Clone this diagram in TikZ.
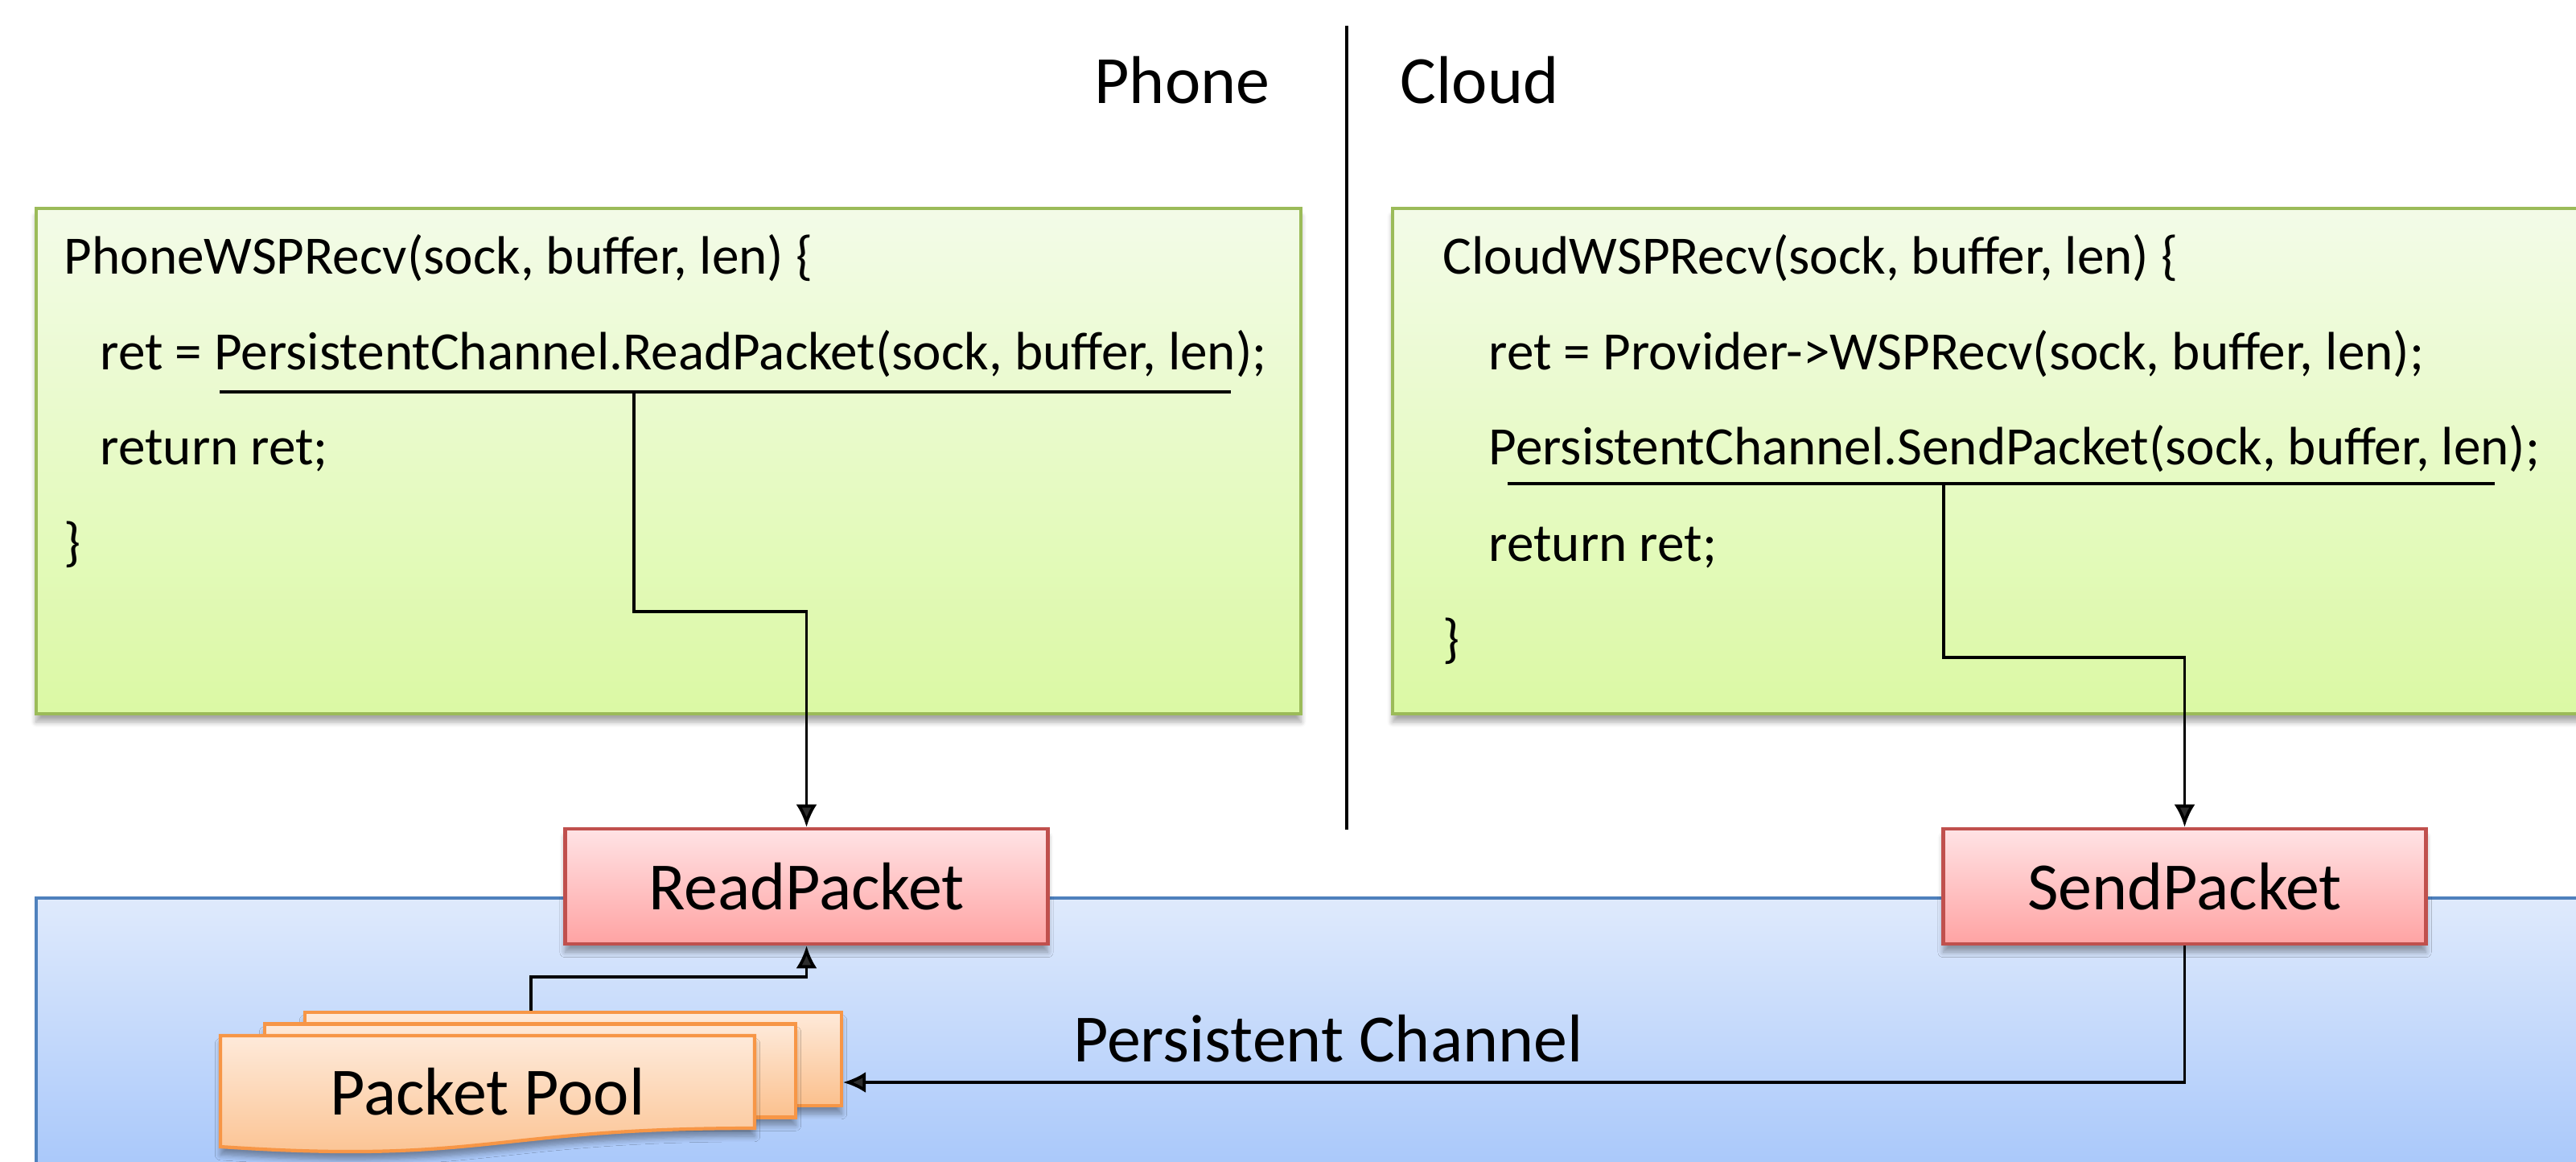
\documentclass[tikz,border=0pt]{standalone}
\usepackage{fontspec}
\setmainfont{Carlito}
\usetikzlibrary{arrows.meta,positioning,shadows.blur}

\definecolor{codetop}{HTML}{F3FBE8}
\definecolor{codebot}{HTML}{DBF9A4}
\definecolor{codeline}{HTML}{9BBB59}
\definecolor{pktop}{HTML}{FFE3E5}
\definecolor{pkbot}{HTML}{FFA3A3}
\definecolor{pkline}{HTML}{C0504D}
\definecolor{chantop}{HTML}{DFEAFC}
\definecolor{chanbot}{HTML}{A6C6FA}
\definecolor{chanline}{HTML}{4F81BD}
\definecolor{pooltop}{HTML}{FEEADA}
\definecolor{poolbot}{HTML}{FBC08D}
\definecolor{poolline}{HTML}{F79646}

\begin{document}
\begin{tikzpicture}
    % Stili per i nodi
    \tikzstyle{shade}=[blur shadow={shadow xshift=0pt, shadow yshift=-1mm, shadow blur steps=6, shadow opacity=35}]
    \tikzstyle{codebox}=[rectangle, draw=codeline, line width=0.9pt, top color=codetop, bottom color=codebot, inner sep=0pt, minimum height=6.28cm, shade]
    \tikzstyle{pkbox}=[rectangle, draw=pkline, line width=1.3pt, top color=pktop, bottom color=pkbot, inner sep=0pt, minimum width=6cm, minimum height=1.43cm, font=\fontsize{23.9pt}{28pt}\selectfont, shade]
    \tikzstyle{chanbox}=[rectangle, draw=chanline, line width=1.2pt, top color=chantop, bottom color=chanbot, inner sep=0pt]
    \tikzstyle{poolbox}=[rectangle, draw=poolline, line width=1.2pt, top color=pooltop, bottom color=poolbot, inner sep=0pt, minimum height=1.16cm, shade]
    \tikzstyle{code}=[anchor=base west, inner sep=0pt, font=\fontsize{19.1pt}{22pt}\selectfont]
    \tikzstyle{big}=[inner sep=0pt, font=\fontsize{23.9pt}{28pt}\selectfont]
    \tikzstyle{arrow}=[-{Latex[length=2.8mm,width=2.6mm]}, line width=1.1pt]
    \tikzstyle{uline}=[line width=1.1pt]

    \useasboundingbox (0,0) rectangle (32.02,-14.43);

    % Canale persistente
    \node[chanbox, minimum width=31.85cm, minimum height=3.54cm] (chan) at (16.375,-12.93) {};
    \node[big, anchor=base] (chanlbl) at (16.51,-13.19) {Persistent Channel};

    % Intestazioni
    \node[big, anchor=base east] (phone) at (15.79,-1.28) {Phone};
    \node[big, anchor=base west] (cloud) at (17.40,-1.28) {Cloud};
    \coordinate (divtop) at (16.74,-0.32);
    \coordinate (divbot) at (16.74,-10.31);
    \draw[line width=0.9pt] (divtop) -- (divbot);

    % Codice lato telefono
    \node[codebox, minimum width=15.72cm] (phonebox) at (8.31,-5.73) {};
    \node[code] (p1) at (0.79,-3.40) {PhoneWSPRecv(sock, buffer, len) \{};
    \node[code] (p2) at (1.24,-4.59) {ret = PersistentChannel.ReadPacket(sock, buffer, len);};
    \node[code] (p3) at (1.24,-5.77) {return ret;};
    \node[code] (p4) at (0.79,-6.96) {\}};

    % Codice lato cloud
    \node[codebox, minimum width=14.99cm] (cloudbox) at (24.805,-5.73) {};
    \node[code] (c1) at (17.93,-3.40) {CloudWSPRecv(sock, buffer, len) \{};
    \node[code] (c2) at (18.50,-4.59) {ret = Provider->WSPRecv(sock, buffer, len);};
    \node[code] (c3) at (18.50,-5.77) {PersistentChannel.SendPacket(sock, buffer, len);};
    \node[code] (c4) at (18.50,-6.97) {return ret;};
    \node[code] (c5) at (17.93,-8.16) {\}};

    % Sottolineature
    \coordinate (ulpa) at (2.73,-4.87);
    \coordinate (ulpb) at (15.30,-4.87);
    \coordinate (rdtap) at (7.88,-4.87);
    \draw[uline] (ulpa) -- (ulpb);
    \coordinate (ulca) at (18.74,-6.01);
    \coordinate (ulcb) at (31.01,-6.01);
    \coordinate (sdtap) at (24.16,-6.01);
    \draw[uline] (ulca) -- (ulcb);

    % Funzioni del canale
    \node[pkbox] (rdpk) at (10.025,-11.015) {ReadPacket};
    \node[pkbox] (sdpk) at (27.155,-11.015) {SendPacket};

    % Pool di pacchetti
    \node[poolbox, minimum width=6.67cm] (pool3) at (7.125,-13.16) {};
    \node[poolbox, minimum width=6.60cm] (pool2) at (6.59,-13.305) {};
    \draw[draw=poolline, line width=1.2pt, top color=pooltop, bottom color=poolbot, shade]
        (2.74,-12.87) -- (9.38,-12.87) -- (9.38,-14.02)
        .. controls (6.06,-14.02) and (6.06,-14.47) .. (2.74,-14.25) -- cycle;
    \node[big, anchor=base] (pool) at (6.06,-13.85) {Packet Pool};

    % Frecce
    \draw[arrow] (rdtap) -- ++(0,-2.73) -| (rdpk.north);
    \draw[arrow] (sdtap) -- ++(0,-2.16) -| (sdpk.north);
    \draw[arrow] ([xshift=-5.25mm]pool3.north) -- ++(0,0.42) -| (rdpk.south);
    \draw[arrow] (sdpk.south) |- ([yshift=-2.9mm]pool3.east);
\end{tikzpicture}
\end{document}
